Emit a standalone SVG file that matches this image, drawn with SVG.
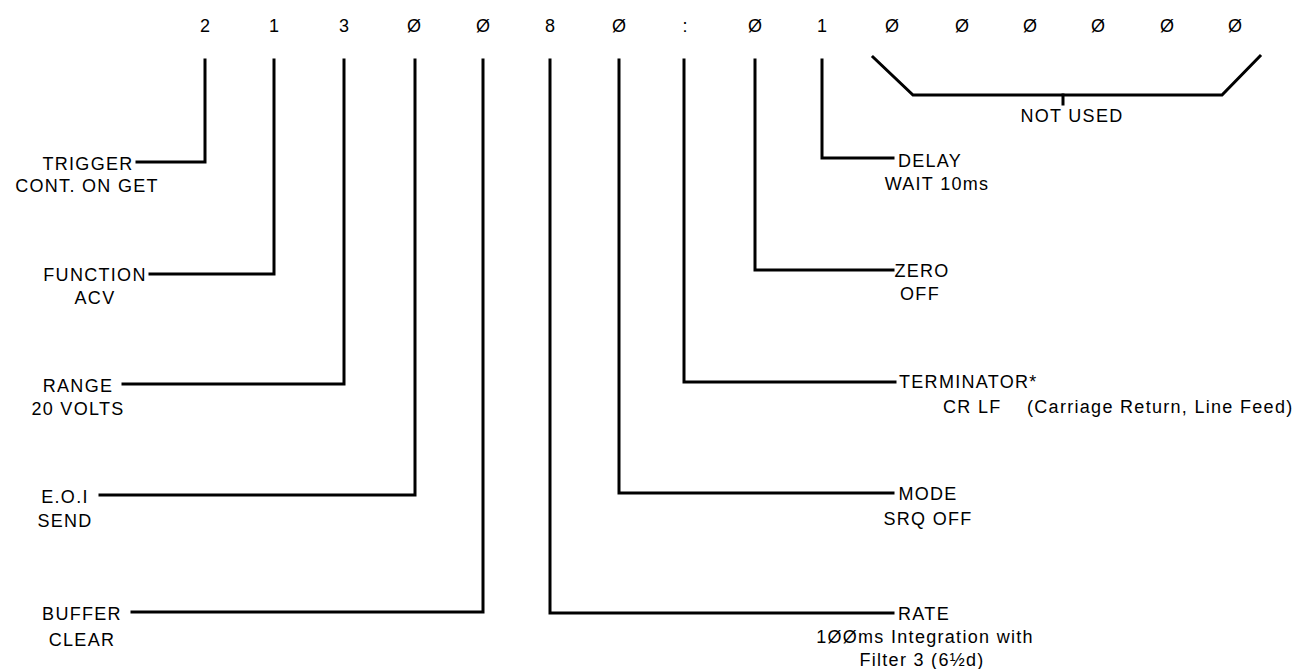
<svg xmlns="http://www.w3.org/2000/svg" width="1297" height="669" viewBox="0 0 1297 669">
<style>
text{font-family:"Liberation Sans",Arial,sans-serif;font-size:18px;fill:#000;letter-spacing:1.3px}
.m{text-anchor:middle}
.d{text-anchor:middle;letter-spacing:0}
.ln{fill:none;stroke:#000;stroke-width:3;stroke-linejoin:miter;stroke-linecap:square}
</style>
<rect width="1297" height="669" fill="#fff"/>
<g id="digits">
<text class="d" x="205" y="32">2</text>
<text class="d" x="274" y="32">1</text>
<text class="d" x="344" y="32">3</text>
<text class="d" x="414" y="32">Ø</text>
<text class="d" x="483" y="32">Ø</text>
<text class="d" x="550" y="32">8</text>
<text class="d" x="619" y="32">Ø</text>
<text class="d" x="685" y="32">:</text>
<text class="d" x="755" y="32">Ø</text>
<text class="d" x="822" y="32">1</text>
<text class="d" x="892" y="32">Ø</text>
<text class="d" x="962" y="32">Ø</text>
<text class="d" x="1030" y="32">Ø</text>
<text class="d" x="1098" y="32">Ø</text>
<text class="d" x="1167" y="32">Ø</text>
<text class="d" x="1235" y="32">Ø</text>
</g>
<g id="connectors">
<path class="ln" d="M205,60 V162 H137"/>
<path class="ln" d="M274,60 V274 H150"/>
<path class="ln" d="M344,60 V384 H123"/>
<path class="ln" d="M415,60 V495 H100"/>
<path class="ln" d="M483,60 V612 H132"/>
<path class="ln" d="M550,60 V613 H893"/>
<path class="ln" d="M619,60 V493 H893"/>
<path class="ln" d="M684,60 V382 H895"/>
<path class="ln" d="M755,60 V270 H893"/>
<path class="ln" d="M822,60 V158 H893"/>
<path class="ln" d="M873,57 L913,95 H1222 L1260,56"/>
<path class="ln" d="M1063,95 V104" stroke-linecap="butt"/>
</g>
<g id="not-used"><text class="m" x="1072" y="122">NOT USED</text></g>
<g id="trigger"><text class="m" x="88" y="170">TRIGGER</text><text class="m" x="87" y="192">CONT. ON GET</text></g>
<g id="function"><text class="m" x="95" y="281">FUNCTION</text><text class="m" x="95" y="304">ACV</text></g>
<g id="range"><text class="m" x="78" y="392">RANGE</text><text class="m" x="78" y="415">20 VOLTS</text></g>
<g id="eoi"><text class="m" x="65" y="503">E.O.I</text><text class="m" x="65" y="527">SEND</text></g>
<g id="buffer"><text class="m" x="82" y="620">BUFFER</text><text class="m" x="82" y="646">CLEAR</text></g>
<g id="delay"><text class="m" x="930" y="167">DELAY</text><text class="m" x="937" y="190">WAIT 10ms</text></g>
<g id="zero"><text class="m" x="922" y="277">ZERO</text><text class="m" x="920" y="300">OFF</text></g>
<g id="terminator"><text x="899" y="388">TERMINATOR*</text><text y="413"><tspan x="943">CR LF</tspan><tspan x="1027">(Carriage Return, Line Feed)</tspan></text></g>
<g id="mode"><text class="m" x="928" y="500">MODE</text><text class="m" x="928" y="525">SRQ OFF</text></g>
<g id="rate"><text class="m" x="924" y="620">RATE</text><text class="m" x="925" y="643">1ØØms Integration with</text><text class="m" x="922" y="666">Filter 3 (6½d)</text></g>
</svg>
